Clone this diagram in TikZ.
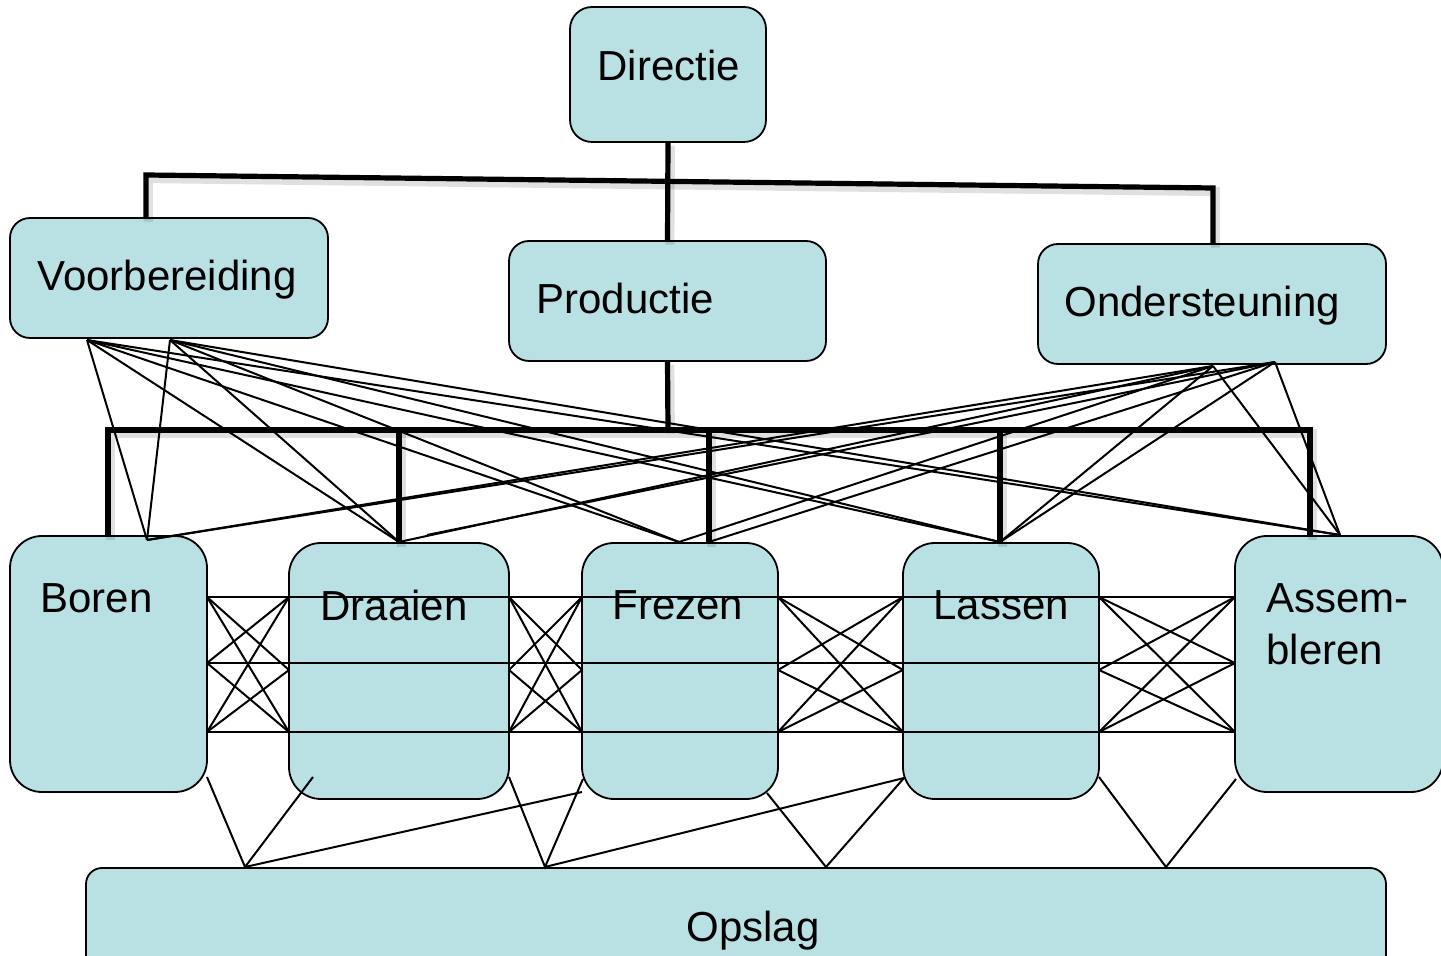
\documentclass[tikz,border=0pt]{standalone}
\usepackage{fontspec}
\setmainfont{Liberation Sans}
\definecolor{boxfill}{RGB}{185,224,227}
\begin{document}
\begin{tikzpicture}[x=0.5pt,y=-0.5pt,
  box/.style={draw=black, line width=0.9pt, fill=boxfill, inner sep=0pt, outer sep=0pt, anchor=north west},
  topbox/.style={box, rounded corners=10pt, minimum height=60pt},
  unitbox/.style={box, rounded corners=16pt, minimum height=128pt},
  lbl/.style={inner sep=0pt, anchor=base west, font=\fontsize{21}{25}\selectfont},
  tree/.style={line width=2.6pt, draw=black},
  treeshadow/.style={line width=4.5pt, draw=black, opacity=0.12, transform canvas={shift={(1.2pt,-1.8pt)}}},
  link/.style={line width=1pt, draw=black}]
\useasboundingbox (0,0) rectangle (1441,956);
\clip (0,0) rectangle (1441,956);

% boxes
\node[box, rounded corners=11pt, minimum width=98pt, minimum height=67.5pt] (directie) at (570,7) {};
\node[topbox, minimum width=159pt] (voorb) at (10,218) {};
\node[topbox, minimum width=158.5pt] (prod) at (509,241) {};
\node[topbox, minimum width=174pt] (onder) at (1038,244) {};
\node[unitbox, minimum width=98.5pt] (boren) at (10,536) {};
\node[unitbox, minimum width=110pt] (draaien) at (289,543) {};
\node[unitbox, minimum width=98pt] (frezen) at (582,543) {};
\node[unitbox, minimum width=98pt] (lassen) at (903,543) {};
\node[unitbox, minimum width=104pt] (assem) at (1235,536) {};
\node[box, rounded corners=8pt, minimum width=650pt, minimum height=52pt] (opslag) at (86,868) {};

% labels
\node[lbl] (tdir) at (597,81) {Directie};
\node[lbl] (tvoorb) at (37,291) {Voorbereiding};
\node[lbl] (tprod) at (536,314) {Productie};
\node[lbl] (tonder) at (1064,317) {Ondersteuning};
\node[lbl] (tboren) at (40,613) {Boren};
\node[lbl] (tdraaien) at (320,621) {Draaien};
\node[lbl] (tfrezen) at (612,620) {Frezen};
\node[lbl] (tlassen) at (933,620) {Lassen};
\node[lbl] (tassem1) at (1266,613) {Assem-};
\node[lbl] (tassem2) at (1266,665) {bleren};
\node[lbl] (topslag) at (686,941) {Opslag};

% tree coordinates
\coordinate (hl) at (146,175);
\coordinate (hr) at (1213,188);
\coordinate (bl) at (108,430);
\coordinate (br) at (1310,430);
\coordinate (bd) at (399,430);
\coordinate (bf) at (709,430);
\coordinate (bla) at (1000,430);
\coordinate (pb) at (668,430);

% tree shadows
\draw[treeshadow] (directie.south) -- (prod.north);
\draw[treeshadow] (hl |- voorb.north) -- (hl) -- (hr) -- (hr |- onder.north);
\draw[treeshadow] (prod.south) -- (pb);
\draw[treeshadow] (bl |- boren.north) -- (bl) -- (br) -- (br |- assem.north);
\draw[treeshadow] (bd) -- (bd |- draaien.north);
\draw[treeshadow] (bf) -- (bf |- frezen.north);
\draw[treeshadow] (bla) -- (bla |- lassen.north);

% fan coordinates
\coordinate (v1) at (87,340);
\coordinate (v2) at (170,340);
\coordinate (o1) at (1213,366);
\coordinate (o2) at (1275,362);
\coordinate (tb) at (147,540);
\coordinate (td) at (399,542);
\coordinate (td2) at (427,535);
\coordinate (tf) at (679,542);
\coordinate (tf2) at (712,541);
\coordinate (tl) at (1000,542);
\coordinate (ta) at (1340,535);

\foreach \s in {v1,v2}{
  \foreach \t in {tb,td,tf,tl,ta}{
    \draw[link] (\s) -- (\t);
  }
}
\foreach \t in {tb,td,tf,tl,ta}{ \draw[link] (o1) -- (\t); }
\foreach \t in {tb,td2,tf2,tl,ta}{ \draw[link] (o2) -- (\t); }

% tree lines
\draw[tree] (directie.south) -- (prod.north);
\draw[tree] (hl |- voorb.north) -- (hl) -- (hr) -- (hr |- onder.north);
\draw[tree] (prod.south) -- (pb);
\draw[tree] (bl |- boren.north) -- (bl) -- (br) -- (br |- assem.north);
\draw[tree] (bd) -- (bd |- draaien.north);
\draw[tree] (bf) -- (bf |- frezen.north);
\draw[tree] (bla) -- (bla |- lassen.north);

% horizontal mesh lines
\coordinate (h1a) at (207,597); \coordinate (h1b) at (1235,597);
\coordinate (h2a) at (207,663); \coordinate (h2b) at (1235,663);
\coordinate (h3a) at (207,732); \coordinate (h3b) at (1235,732);
\draw[link] (h1a) -- (h1b);
\draw[link] (h2a) -- (h2b);
\draw[link] (h3a) -- (h3b);

% crossing mesh in gaps
\foreach \xl/\xr/\ml/\mr in {207/289/663/670, 509/582/670/670, 778/903/670/670, 1099/1235/670/663}{
  \coordinate (LT) at (\xl,597); \coordinate (LM) at (\xl,\ml); \coordinate (LB) at (\xl,732);
  \coordinate (RT) at (\xr,597); \coordinate (RM) at (\xr,\mr); \coordinate (RB) at (\xr,732);
  \draw[link] (LT) -- (RM);
  \draw[link] (LT) -- (RB);
  \draw[link] (LM) -- (RT);
  \draw[link] (LM) -- (RB);
  \draw[link] (LB) -- (RT);
  \draw[link] (LB) -- (RM);
}

% lines to Opslag
\coordinate (p1) at (245,867);
\coordinate (p2) at (545,867);
\coordinate (p3) at (826,867);
\coordinate (p4) at (1166,867);
\coordinate (b1) at (207,777);
\coordinate (b2) at (313,777);
\coordinate (b3) at (582,792);
\coordinate (b4) at (509,777);
\coordinate (b5) at (583,779);
\coordinate (b6) at (904,778);
\coordinate (b7) at (767,793);
\coordinate (b8) at (1099,777);
\coordinate (b9) at (1236,779);
\draw[link] (b1) -- (p1) -- (b2);
\draw[link] (p1) -- (b3);
\draw[link] (b4) -- (p2) -- (b5);
\draw[link] (p2) -- (b6);
\draw[link] (b7) -- (p3) -- (b6);
\draw[link] (b8) -- (p4) -- (b9);
\end{tikzpicture}
\end{document}
